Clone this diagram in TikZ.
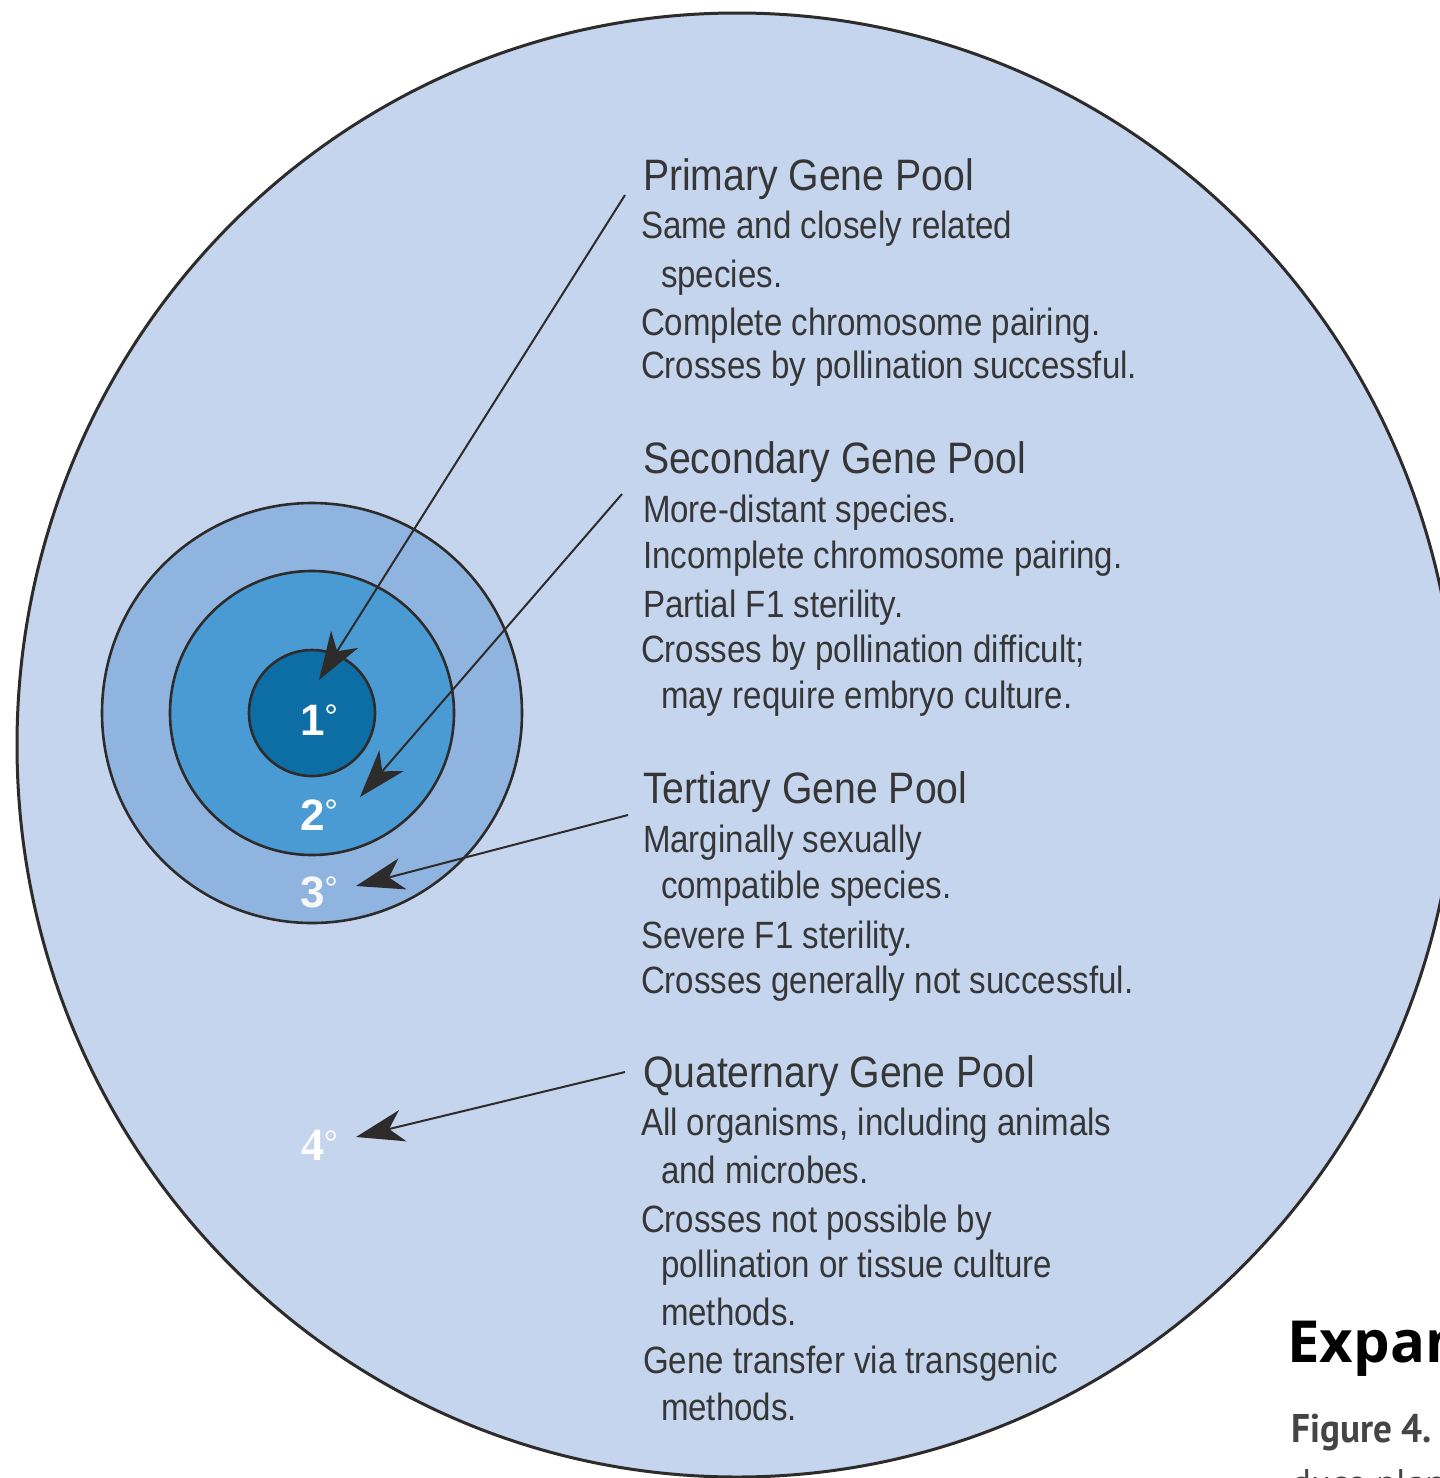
\documentclass[tikz,border=0pt]{standalone}
\usepackage{fontspec}
\setmainfont{Liberation Sans}
\newfontfamily\headfam[FakeStretch=0.89]{Liberation Sans}
\newfontfamily\bodyfam[FakeStretch=0.87]{Liberation Sans}
\newfontfamily\numserif{Liberation Serif}
\newfontfamily\capfam{Open Sans}
\newfontfamily\figfam[FakeStretch=0.93]{PT Sans}
\usetikzlibrary{arrows.meta}
\definecolor{bg}{HTML}{C5D5EE}
\definecolor{ringc}{HTML}{8FB4E0}
\definecolor{ringb}{HTML}{4A9AD3}
\definecolor{ringa}{HTML}{0C6EA5}
\definecolor{txt}{HTML}{363636}
\definecolor{edge}{HTML}{2E2B2B}
\definecolor{captxt}{HTML}{454545}
\newcommand{\thindeg}{\raisebox{3.5pt}{\mdseries\fontsize{17}{20}\selectfont°}}
\tikzset{
  headtxt/.style={anchor=base west, inner sep=0pt, outer sep=0pt, text=txt, font=\headfam\fontsize{22}{24}\selectfont},
  bodytxt/.style={anchor=base west, inner sep=0pt, outer sep=0pt, text=txt, font=\bodyfam\fontsize{19}{22}\selectfont},
  numtxt/.style={anchor=base west, inner sep=0pt, outer sep=0pt, text=white, font=\bfseries\fontsize{22}{24}\selectfont},
  ringline/.style={draw=edge, line width=1.3pt},
  arr/.style={draw=edge, line width=1pt, -{Stealth[length=24pt, width=16pt, inset=7pt]}}
}
\begin{document}
\begin{tikzpicture}[x=0.5pt, y=-0.5pt]
\useasboundingbox (0,0) rectangle (1440,1478);
\clip (0,0) rectangle (1440,1478);
\fill[white] (0,0) rectangle (1440,1478);
% outer pool
\coordinate (big) at (737,745);
\draw[ringline, line width=1.5pt, fill=bg] (big) ellipse [x radius=720, y radius=732];
% concentric pools
\coordinate (ctr) at (312,713);
\draw[ringline, fill=ringc] (ctr) circle [radius=210];
\draw[ringline, fill=ringb] (ctr) circle [radius=142];
\draw[ringline, fill=ringa] (ctr) circle [radius=63];
% degree labels
\node[numtxt] (n1) at (300,735) {1\thindeg};
\node[numtxt] (n2) at (300,830) {2\thindeg};
\node[numtxt, text=white!97!black] (n3) at (300,907) {3\thindeg};
\node[numtxt, font=\numserif\bfseries\fontsize{23}{24}\selectfont] (n4) at (301,1160) {4\thindeg};
% arrows
\coordinate (a1s) at (625,195); \coordinate (a1e) at (319,680);
\coordinate (a2s) at (622,494); \coordinate (a2e) at (360,797);
\coordinate (a3s) at (628,815); \coordinate (a3e) at (356,886);
\coordinate (a4s) at (625,1072); \coordinate (a4e) at (356,1137);
\draw[arr] (a1s) -- (a1e);
\draw[arr] (a2s) -- (a2e);
\draw[arr] (a3s) -- (a3e);
\draw[arr] (a4s) -- (a4e);
% Primary
\node[headtxt] (ph) at (643,190) {Primary Gene Pool};
\node[bodytxt] (p1) at (641,238) {Same and closely related};
\node[bodytxt] (p2) at (661,287) {species.};
\node[bodytxt] (p3) at (641,335) {Complete chromosome pairing.};
\node[bodytxt] (p4) at (641,378) {Crosses by pollination successful.};
% Secondary
\node[headtxt] (sh) at (643,473) {Secondary Gene Pool};
\node[bodytxt] (s1) at (643,522) {More-distant species.};
\node[bodytxt] (s2) at (643,568) {Incomplete chromosome pairing.};
\node[bodytxt] (s3) at (643,617) {Partial F1 sterility.};
\node[bodytxt] (s4) at (641,662) {Crosses by pollination difficult;};
\node[bodytxt] (s5) at (661,708) {may require embryo culture.};
% Tertiary
\node[headtxt] (th) at (643,803) {Tertiary Gene Pool};
\node[bodytxt] (t1) at (643,852) {Marginally sexually};
\node[bodytxt] (t2) at (661,898) {compatible species.};
\node[bodytxt] (t3) at (641,948) {Severe F1 sterility.};
\node[bodytxt] (t4) at (641,993) {Crosses generally not successful.};
% Quaternary
\node[headtxt] (qh) at (643,1087) {Quaternary Gene Pool};
\node[bodytxt] (q1) at (641,1135) {All organisms, including animals};
\node[bodytxt] (q2) at (661,1183) {and microbes.};
\node[bodytxt] (q3) at (641,1232) {Crosses not possible by};
\node[bodytxt] (q4) at (661,1277) {pollination or tissue culture};
\node[bodytxt] (q5) at (661,1325) {methods.};
\node[bodytxt] (q6) at (643,1373) {Gene transfer via transgenic};
\node[bodytxt] (q7) at (661,1420) {methods.};
% cut-off caption text at the page edge, as in the reference
\node[anchor=base west, inner sep=0pt, font=\capfam\bfseries\fontsize{29}{32}\selectfont] (cap1) at (1287,1362) {Expan};
\node[anchor=base west, inner sep=0pt, text=captxt, font=\figfam\bfseries\fontsize{20}{24}\selectfont] (cap2) at (1291,1442) {Figure 4.};
\node[anchor=base west, inner sep=0pt, text=captxt, font=\figfam\fontsize{20}{24}\selectfont] (cap3) at (1291,1497) {duce plan};
\end{tikzpicture}
\end{document}
